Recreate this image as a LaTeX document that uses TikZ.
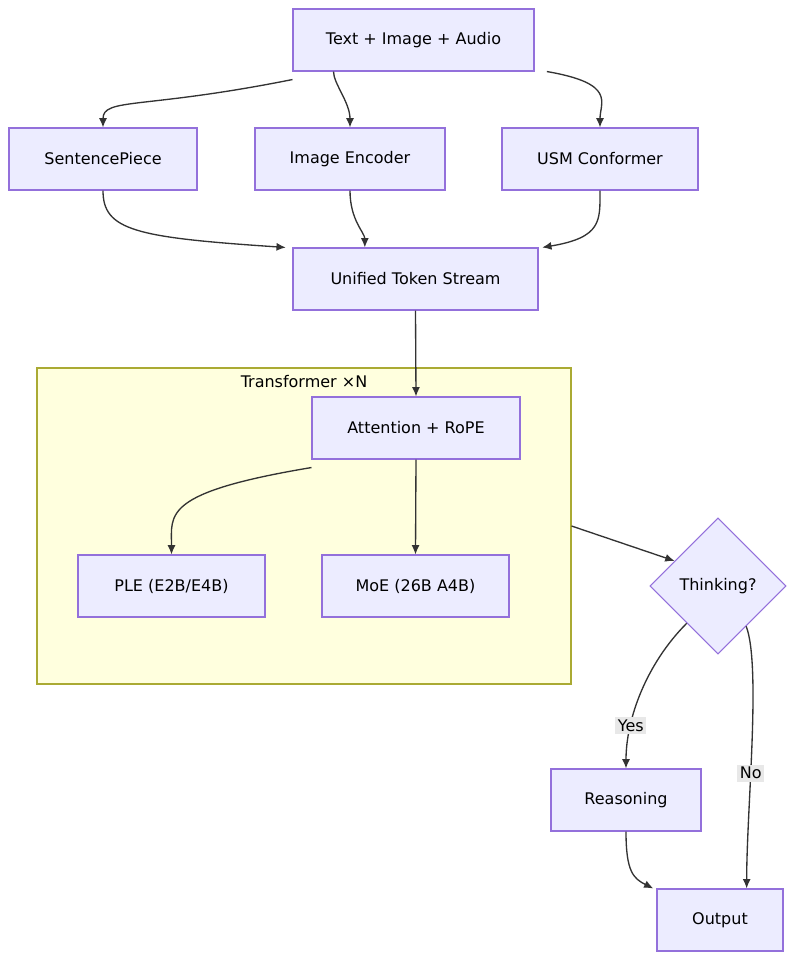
\documentclass[tikz,border=0pt]{standalone}
\usepackage{fontspec}
\setmainfont{DejaVu Sans}
\usetikzlibrary{shapes.geometric,arrows.meta}
\begin{document}
\begin{tikzpicture}[x=0.75pt,y=-0.75pt,
  box/.style={draw=violet!60!blue!50, fill=lav, line width=0.8pt, minimum height=46.5pt, inner sep=0pt, font=\fontsize{12}{14}\selectfont},
  edge/.style={draw=darkline, line width=1pt, -{Latex[length=7pt,width=6pt]}},
  lbl/.style={fill=lblbg, inner sep=2pt, font=\fontsize{12}{14}\selectfont}]
\definecolor{lav}{HTML}{ECECFF}
\definecolor{pur}{HTML}{9370DB}
\definecolor{clf}{HTML}{FFFFDE}
\definecolor{cls}{HTML}{AAAA33}
\definecolor{darkline}{HTML}{333333}
\definecolor{lblbg}{HTML}{E8E8E8}
\tikzset{box/.append style={draw=pur}}
\useasboundingbox (0,0) rectangle (800,961);
\node[draw=cls, fill=clf, line width=0.8pt, minimum width=400.5pt, minimum height=237pt] (cl) at (304,526) {};
\node[font=\fontsize{12}{14}\selectfont] (cllab) at (304,382) {Transformer ×N};
\node[box, minimum width=180.75pt] (in) at (413.5,40) {Text + Image + Audio};
\node[box, minimum width=141pt] (sp) at (103,159) {SentencePiece};
\node[box, minimum width=142.5pt] (ie) at (350,159) {Image Encoder};
\node[box, minimum width=147pt] (usm) at (600,159) {USM Conformer};
\node[box, minimum width=183.75pt] (uts) at (415.5,279) {Unified Token Stream};
\node[box, minimum width=156pt] (att) at (416,428) {Attention + RoPE};
\node[box, minimum width=140.25pt] (ple) at (171.5,586) {PLE (E2B/E4B)};
\node[box, minimum width=140.25pt] (moe) at (415.5,586) {MoE (26B A4B)};
\node[box, diamond, minimum width=102pt, minimum height=102pt, aspect=1] (th) at (718,586) {Thinking?};
\node[box, minimum width=112.5pt] (rs) at (626,800) {Reasoning};
\node[box, minimum width=94.5pt] (out) at (720,920) {Output};
\draw[edge] ([yshift=-6]in.south west) .. controls +(-150,30) and +(0,-30) .. (sp.north);
\draw[edge] ([xshift=-60]in.south) .. controls +(0,12) and +(0,-25) .. (ie.north);
\draw[edge] ([xshift=100]in.south) .. controls +(70,12) and +(0,-25) .. (usm.north);
\draw[edge] (sp.south) .. controls +(0,40) and +(-150,-10) .. ([xshift=-5]uts.north west);
\draw[edge] (ie.south) .. controls +(0,30) and +(0,-15) .. ([xshift=-38]uts.north);
\draw[edge] (usm.south) .. controls +(0,30) and +(60,-10) .. ([xshift=95]uts.north);
\draw[edge] (uts.south) -- (att.north);
\draw[edge] ([yshift=-6]att.south west) .. controls +(-150,25) and +(0,-40) .. (ple.north);
\draw[edge] (att.south) -- (moe.north);
\draw[edge] (cl.east) -- (th.150);
\draw[edge] (th.230) .. controls +(-40,40) and +(0,-50) .. (rs.north) node[lbl, pos=0.72] (yes) {Yes};
\draw[edge] (th.305) .. controls +(15,40) and +(0,-80) .. ([xshift=20]out.north) node[lbl, pos=0.6] (no) {No};
\draw[edge] (rs.south) .. controls +(0,40) and +(-20,-10) .. ([xshift=-50]out.north);
\end{tikzpicture}
\end{document}
